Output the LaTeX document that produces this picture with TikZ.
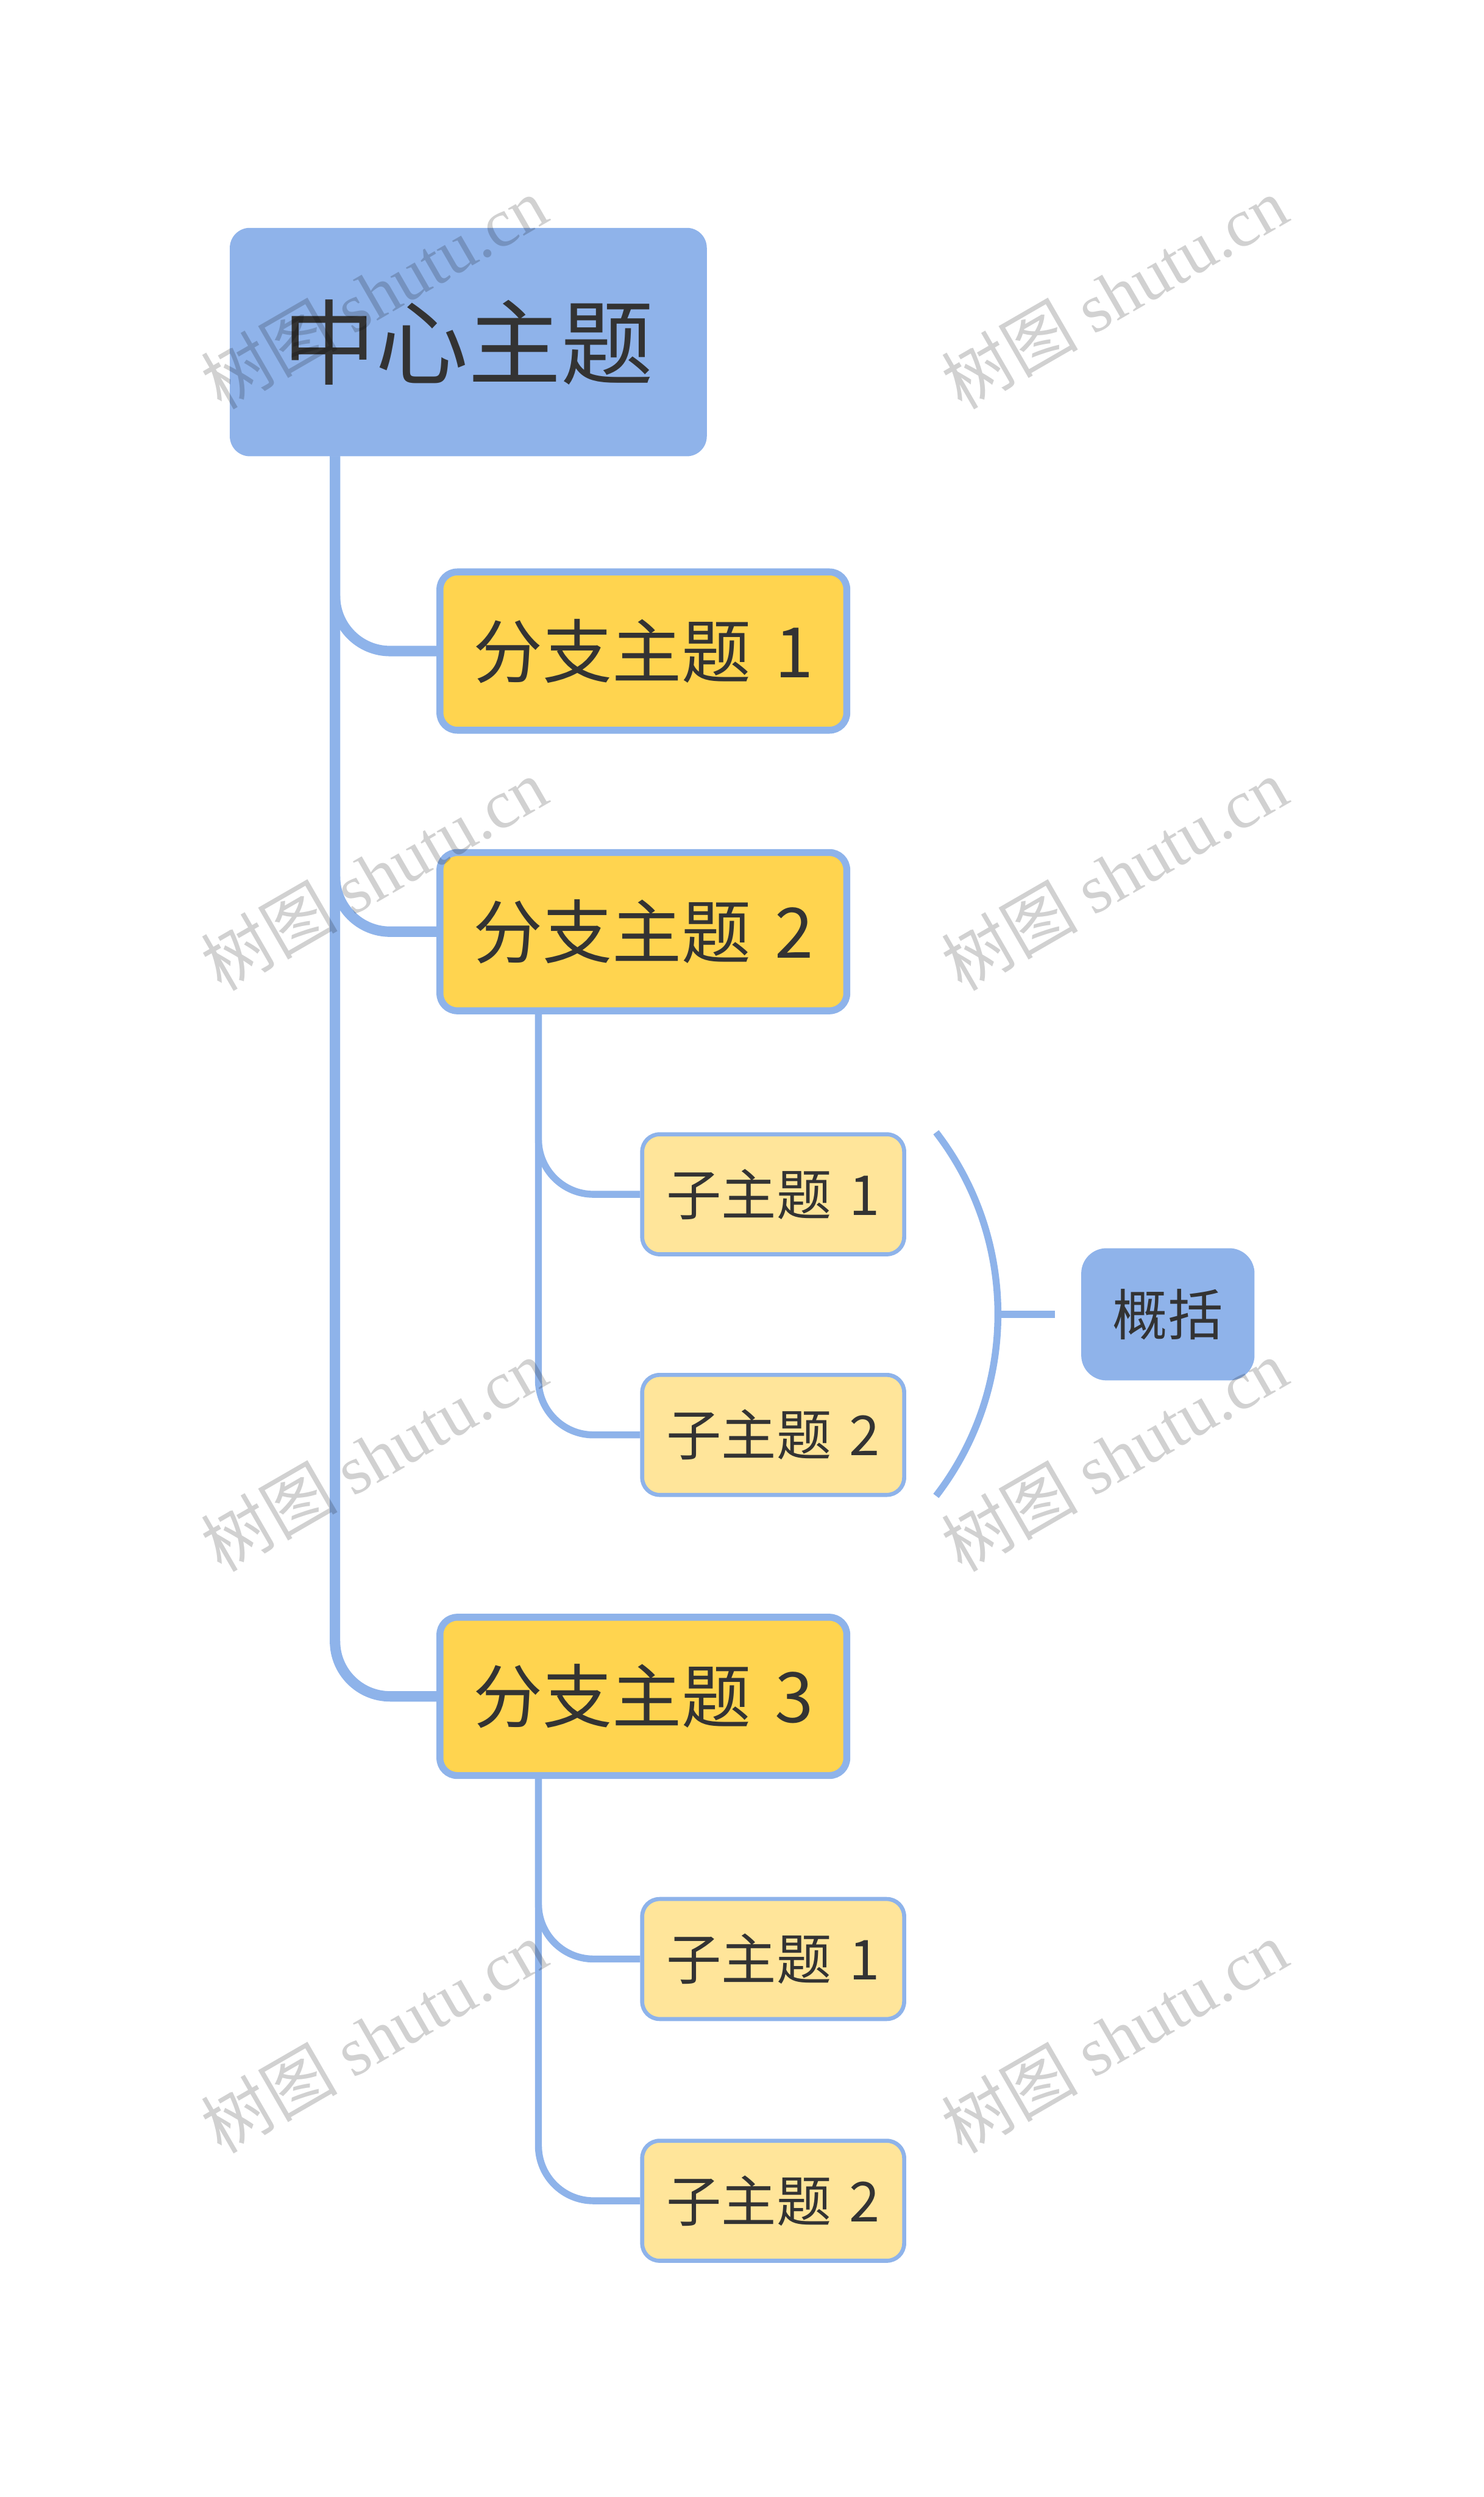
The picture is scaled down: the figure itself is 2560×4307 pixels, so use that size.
\documentclass[tikz,border=0pt]{standalone}
\usepackage{fontspec}
\setmainfont{Noto Sans CJK SC}
\newfontfamily\wmlat{Liberation Serif}
\usetikzlibrary{calc,backgrounds}
\definecolor{lineblue}{HTML}{8EB3EA}
\definecolor{rootblue}{HTML}{8FB3EA}
\definecolor{branchyel}{HTML}{FFD44F}
\definecolor{subyel}{HTML}{FFE59A}
\definecolor{txt}{HTML}{333333}
\begin{document}
\begin{tikzpicture}[x=1pt,y=-1pt,
  rootbox/.style={draw=rootblue, fill=rootblue, line width=3pt, rounded corners=33pt,
    minimum width=820pt, minimum height=391pt, inner sep=0pt, text=txt,
    font=\fontsize{160}{180}\selectfont},
  branchbox/.style={draw=lineblue, fill=branchyel, line width=12pt, rounded corners=30pt,
    minimum width=702pt, minimum height=273pt, inner sep=0pt, text=txt,
    font=\fontsize{120}{140}\selectfont},
  subbox/.style={draw=lineblue, fill=subyel, line width=7pt, rounded corners=30pt,
    minimum width=452pt, minimum height=207pt, inner sep=0pt, text=txt,
    font=\fontsize{95}{110}\selectfont},
  sumbox/.style={draw=rootblue, fill=rootblue, line width=3pt, rounded corners=42pt,
    minimum width=296pt, minimum height=225pt, inner sep=0pt, text=txt,
    font=\fontsize{95}{110}\selectfont},
  trunkline/.style={draw=lineblue, line width=18pt, rounded corners=95pt},
  subline/.style={draw=lineblue, line width=12pt, rounded corners=95pt},
  brk/.style={draw=lineblue, line width=12pt},
  wm/.style={text=black, text opacity=0.18, inner sep=0pt, rotate=30,
    font=\fontsize{118}{130}\selectfont}
]
\useasboundingbox (0,0) rectangle (2560,4307);

% nodes
\node[rootbox] (root) at (808,590) {中心主题};
\node[branchbox] (b1) at (1110,1123) {分支主题\hspace{0.12em} 1};
\node[branchbox] (b2) at (1110,1607) {分支主题\hspace{0.12em} 2};
\node[branchbox] (b3) at (1110,2926) {分支主题\hspace{0.12em} 3};
\node[subbox] (s1) at (1334,2060) {子主题\hspace{0.1em} 1};
\node[subbox] (s2) at (1334,2475) {子主题\hspace{0.1em} 2};
\node[subbox] (s3) at (1334,3379) {子主题\hspace{0.1em} 1};
\node[subbox] (s4) at (1334,3796) {子主题\hspace{0.1em} 2};
\node[sumbox] (sum) at (2015,2267) {概括};

% connectors
\begin{scope}[on background layer]
  \draw[trunkline] (578,0 |- root.south) |- (b1.west);
  \draw[trunkline] (578,0 |- root.south) |- (b2.west);
  \draw[trunkline] (578,0 |- root.south) |- (b3.west);
  \draw[subline] (929,0 |- b2.south) |- (s1.west);
  \draw[subline] (929,0 |- b2.south) |- (s2.west);
  \draw[subline] (929,0 |- b3.south) |- (s3.west);
  \draw[subline] (929,0 |- b3.south) |- (s4.west);
\end{scope}

% summary bracket
\coordinate (btop) at (1615,1953);
\coordinate (bmid) at (1722,2267);
\coordinate (bend) at ($(sum.west)+(-45,0)$);
\draw[brk] (btop) arc[start angle=-37.6, end angle=37.6, radius=514];
\draw[brk] (bmid) -- (bend);

% watermarks
\foreach \i/\x/\y in {1/645/505, 2/1923/505, 3/645/1508, 4/1923/1508,
                      5/645/2510, 6/1923/2510, 7/645/3513, 8/1923/3513}{
  \node[wm] (wm\i) at (\x,\y) {树图 {\wmlat shutu.cn}};
}
\end{tikzpicture}
\end{document}
